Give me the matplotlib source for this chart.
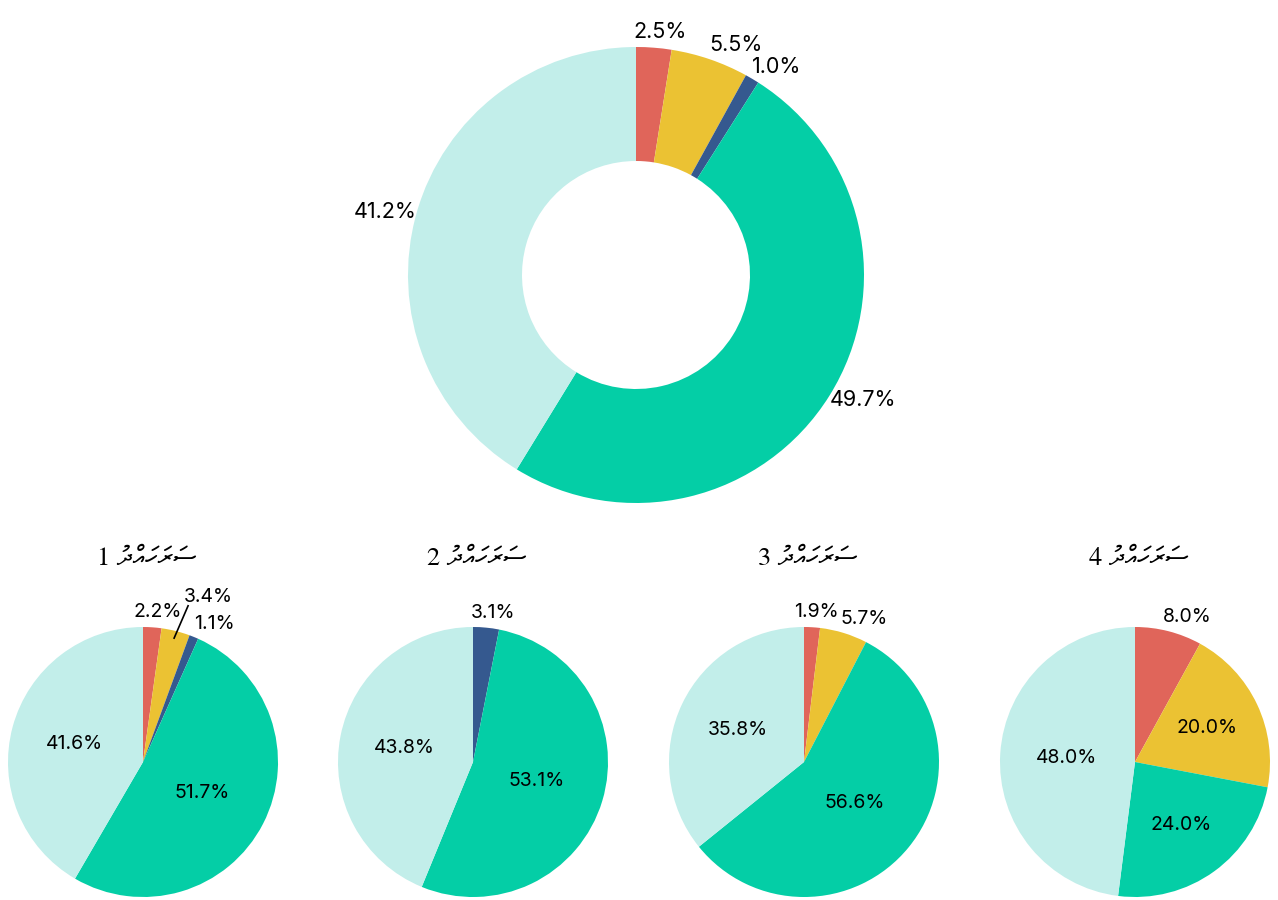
import numpy as np
import matplotlib
matplotlib.use('Agg')
import matplotlib.pyplot as plt

# data
colors = ['#E0655A', '#EBC233', '#35598F', '#04CEA6', '#C2EEEA']
main_values = [2.5, 5.5, 1.0, 49.7, 41.2]
region_titles = ['ސަރަހައްދު 1', 'ސަރަހައްދު 2', 'ސަރަހައްދު 3', 'ސަރަހައްދު 4']
region_values = [
    [2.2, 3.4, 1.1, 51.7, 41.6],
    [0.0, 0.0, 3.1, 53.1, 43.8],
    [1.9, 5.7, 0.0, 56.6, 35.8],
    [8.0, 20.0, 0.0, 24.0, 48.0],
]

W, H = 1278, 900
fig = plt.figure(figsize=(W / 100, H / 100), dpi=100)
renderer = fig.canvas.get_renderer()


def visual_rtl(s):
    # no bidi in matplotlib: draw the characters in display order
    # (FreeSerif's Thaana marks sit right of their origin, so mark goes first)
    return s[::-1]


def add_pie(cx, cy, r, values, hole=0.0, fs=14, inside_min=100.0):
    ax = fig.add_axes([(cx - r) / W, 1 - (cy + r) / H, 2 * r / W, 2 * r / H])
    ax.pie(values, colors=colors, startangle=90, counterclock=False, radius=1,
           wedgeprops=dict(linewidth=0, width=1 - hole if hole else None))
    ax.set_xlim(-1, 1)
    ax.set_ylim(-1, 1)
    ax.axis('off')
    placed = []
    total = sum(values)
    start = 90.0
    for v in values:
        if v <= 0:
            continue
        span = v / total * 360
        mid = np.deg2rad(start - span / 2)
        start -= span
        c, s = np.cos(mid), np.sin(mid)
        lab = '%.1f%%' % v
        if v >= inside_min:
            d = 0.5 + 0.15 * (1 - span / 180)
            ax.text(d * c, d * s, lab, ha='center', va='center', fontsize=fs,
                    family='Inter', color='black', clip_on=False)
            continue
        t = ax.text(c, s, lab, ha='center', va='center', fontsize=fs,
                    family='Inter', color='black', clip_on=False)
        bb = t.get_window_extent(renderer)
        w, h = bb.width, bb.height
        # outside label: nudge sideways by part of its width, up/down by its height
        ox = np.sign(c) * w / 2 * min(1, 3 * abs(c))
        oy = np.sign(s) * (h / 2 + 6) * s ** 2
        t.set_position((c + ox / r, s + oy / r))
        bb = t.get_window_extent(renderer).padded(-3)
        if placed and bb.overlaps(placed[-1].get_window_extent(renderer).padded(-3)):
            # lift this label above its neighbour and draw a leader line
            pb = placed[-1].get_window_extent(renderer)
            nx = (pb.x1 + 2 + w / 2 - (cx)) / r
            ny = s + oy / r + (h + 2) / r
            t.set_position((nx, ny))
            ax.plot([0.94 * c, nx - 0.4 * w / r], [0.94 * s, ny - 0.45 * h / r],
                    color='black', lw=1.2, solid_capstyle='butt', clip_on=False)
        placed.append(t)
    return ax


# main donut, every label outside
add_pie(636, 275, 228, main_values, hole=0.5, fs=15.5, inside_min=100.0)

# four regions
centers = [143, 473, 804, 1135]
for cx, title, vals in zip(centers, region_titles, region_values):
    add_pie(cx, 762, 135, vals, fs=14, inside_min=15.0)
    fig.text((cx + 4) / W, 1 - 559 / H, visual_rtl(title), ha='center', va='center',
             fontsize=19, family='FreeSerif')

fig.savefig('out.png', dpi=100)
